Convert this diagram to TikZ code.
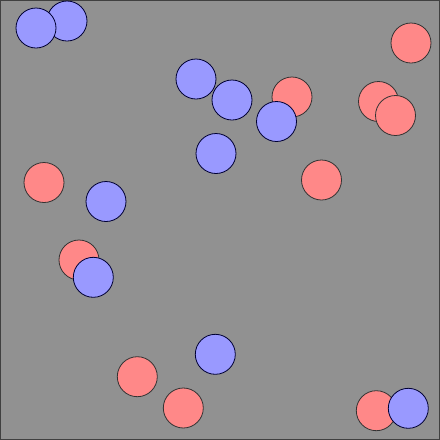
\documentclass[tikz,border=0pt]{standalone}
\begin{document}
\begin{tikzpicture}[x=1pt,y=-1pt,
  redball/.style={circle,draw=black!80,line width=0.8pt,fill=ballred,minimum size=40pt,inner sep=0pt},
  blueball/.style={circle,draw=black!80!blue,line width=0.8pt,fill=ballblue,minimum size=40pt,inner sep=0pt}]
\definecolor{ballred}{HTML}{FF8888}
\definecolor{ballblue}{HTML}{9999FF}
\definecolor{bggray}{HTML}{919191}
\useasboundingbox (0,0) rectangle (440,440);
\fill[bggray] (0,0) rectangle (440,440);
\draw[black!75,line width=1pt] (0.5,0.5) rectangle (439.5,439.5);
\node[blueball] (b1) at (67,21) {};
\node[blueball] (b2) at (36,28) {};
\node[redball] (r1) at (411,43) {};
\node[blueball] (b3) at (196,79) {};
\node[blueball] (b4) at (232,100) {};
\node[redball] (r2) at (292,97) {};
\node[blueball] (b5) at (276.5,121.5) {};
\node[redball] (r3) at (378.5,101.5) {};
\node[redball] (r4) at (395.5,115.5) {};
\node[blueball] (b6) at (216,153.5) {};
\node[redball] (r5) at (44,182.5) {};
\node[redball] (r6) at (321.5,180) {};
\node[blueball] (b7) at (106,201.5) {};
\node[redball] (r7) at (79,260) {};
\node[blueball] (b8) at (93.3,277.3) {};
\node[blueball] (b9) at (215.3,354.3) {};
\node[redball] (r8) at (137.3,376.7) {};
\node[redball] (r9) at (183.3,408) {};
\node[redball] (r10) at (376.3,410.7) {};
\node[blueball] (b10) at (408.3,408.3) {};
\end{tikzpicture}
\end{document}
